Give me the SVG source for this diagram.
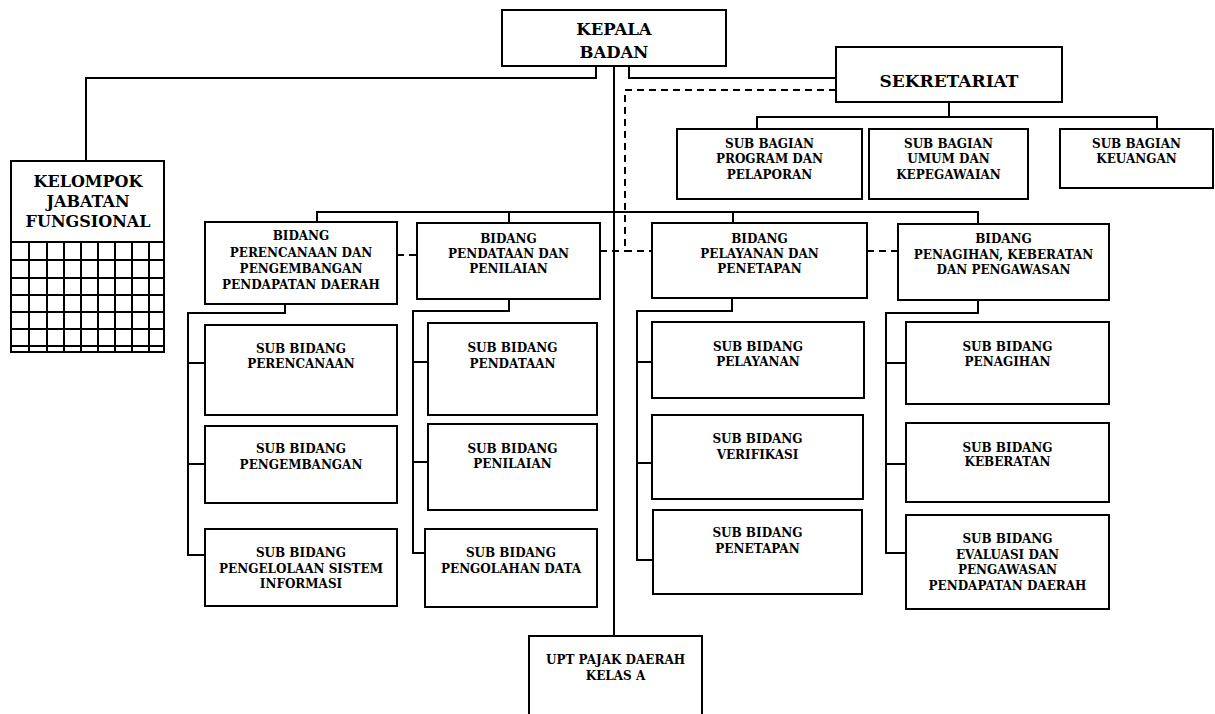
<svg xmlns="http://www.w3.org/2000/svg" width="1215" height="714" viewBox="0 0 1215 714">
<style>
.box{fill:#fff;stroke:#000;stroke-width:2}
.ln{fill:none;stroke:#000;stroke-width:2}
.dash{fill:none;stroke:#000;stroke-width:2;stroke-dasharray:7 5}
text{font-family:"DejaVu Serif","Liberation Serif",serif;font-weight:bold;text-anchor:middle;fill:#000}
.s{font-size:12px}
.m{font-size:16px}
.l{font-size:16.5px}
.xl{font-size:17px}
</style>
<rect width="1215" height="714" fill="#fff"/>
<g id="connectors">
<path class="ln" d="M596,66 V78 H86 V161"/>
<path class="ln" d="M629,66 V78 H836"/>
<path class="ln" d="M614,66 V636"/>
<path class="dash" d="M836,90 H625 V251 H652"/>
<path class="dash" d="M397,255 H417"/>
<path class="dash" d="M600,251 H625"/>
<path class="dash" d="M867,251 H898"/>
<path class="ln" d="M949,102 V117 M757,129 V117 H1157 V129"/>
<path class="ln" d="M317,222 V212 H978 V224 M509,212 V223 M733,212 V223"/>
<path class="ln" d="M285,304 V313 H188 V555 H205 M188,363 H205 M188,464 H205"/>
<path class="ln" d="M509,299 V311 H413 V553 H425 M413,362 H428 M413,462 H428"/>
<path class="ln" d="M732,298 V311 H637 V560 H653 M637,362 H652 M637,463 H652"/>
<path class="ln" d="M978,300 V313 H886 V553 H906 M886,363 H906 M886,464 H906"/>
</g>
<g id="kepala-badan">
<rect class="box" x="502" y="10" width="224" height="56"/>
<text class="l" x="614" y="35">KEPALA</text>
<text class="l" x="614" y="58">BADAN</text>
</g>
<g id="sekretariat">
<rect class="box" x="836" y="47" width="226" height="55"/>
<text class="xl" x="949" y="87">SEKRETARIAT</text>
</g>
<g id="kelompok-jabatan-fungsional">
<rect class="box" x="11" y="161" width="153" height="191"/>
<path class="ln" d="M11,242 H164 M11,260 H164 M11,278 H164 M11,295 H164 M11,312 H164 M11,329 H164 M11,346 H164 M29,242 V352 M47,242 V352 M64,242 V352 M81,242 V352 M98,242 V352 M115,242 V352 M132,242 V352 M149,242 V352"/>
<text class="m" x="88" y="187">KELOMPOK</text>
<text class="m" x="88" y="207">JABATAN</text>
<text class="m" x="88" y="227">FUNGSIONAL</text>
</g>
<g id="sub-bagian-program">
<rect class="box" x="677" y="129" width="185" height="70"/>
<text class="s" x="769.5" y="148">SUB BAGIAN</text>
<text class="s" x="769.5" y="163">PROGRAM DAN</text>
<text class="s" x="769.5" y="179">PELAPORAN</text>
</g>
<g id="sub-bagian-umum">
<rect class="box" x="869" y="129" width="159" height="70"/>
<text class="s" x="948.5" y="148">SUB BAGIAN</text>
<text class="s" x="948.5" y="163">UMUM DAN</text>
<text class="s" x="948.5" y="179">KEPEGAWAIAN</text>
</g>
<g id="sub-bagian-keuangan">
<rect class="box" x="1060" y="129" width="153" height="59"/>
<text class="s" x="1136.5" y="148">SUB BAGIAN</text>
<text class="s" x="1136.5" y="163">KEUANGAN</text>
</g>
<g id="bidang-perencanaan">
<rect class="box" x="205" y="222" width="192" height="82"/>
<text class="s" x="301" y="240">BIDANG</text>
<text class="s" x="301" y="257">PERENCANAAN DAN</text>
<text class="s" x="301" y="273">PENGEMBANGAN</text>
<text class="s" x="301" y="289">PENDAPATAN DAERAH</text>
</g>
<g id="bidang-pendataan">
<rect class="box" x="417" y="223" width="183" height="76"/>
<text class="s" x="508.5" y="243">BIDANG</text>
<text class="s" x="508.5" y="258">PENDATAAN DAN</text>
<text class="s" x="508.5" y="273">PENILAIAN</text>
</g>
<g id="bidang-pelayanan">
<rect class="box" x="652" y="223" width="215" height="75"/>
<text class="s" x="759.5" y="243">BIDANG</text>
<text class="s" x="759.5" y="258">PELAYANAN DAN</text>
<text class="s" x="759.5" y="273">PENETAPAN</text>
</g>
<g id="bidang-penagihan">
<rect class="box" x="898" y="224" width="211" height="76"/>
<text class="s" x="1003.5" y="243">BIDANG</text>
<text class="s" x="1003.5" y="259">PENAGIHAN, KEBERATAN</text>
<text class="s" x="1003.5" y="274">DAN PENGAWASAN</text>
</g>
<g id="sub-bidang-perencanaan">
<rect class="box" x="205" y="325" width="192" height="90"/>
<text class="s" x="301" y="353">SUB BIDANG</text>
<text class="s" x="301" y="368">PERENCANAAN</text>
</g>
<g id="sub-bidang-pengembangan">
<rect class="box" x="205" y="426" width="192" height="77"/>
<text class="s" x="301" y="453">SUB BIDANG</text>
<text class="s" x="301" y="469">PENGEMBANGAN</text>
</g>
<g id="sub-bidang-pengelolaan">
<rect class="box" x="205" y="529" width="192" height="77"/>
<text class="s" x="301" y="557">SUB BIDANG</text>
<text class="s" x="301" y="573">PENGELOLAAN SISTEM</text>
<text class="s" x="301" y="588">INFORMASI</text>
</g>
<g id="sub-bidang-pendataan">
<rect class="box" x="428" y="323" width="169" height="92"/>
<text class="s" x="512.5" y="352">SUB BIDANG</text>
<text class="s" x="512.5" y="368">PENDATAAN</text>
</g>
<g id="sub-bidang-penilaian">
<rect class="box" x="428" y="424" width="169" height="86"/>
<text class="s" x="512.5" y="453">SUB BIDANG</text>
<text class="s" x="512.5" y="468">PENILAIAN</text>
</g>
<g id="sub-bidang-pengolahan">
<rect class="box" x="425" y="529" width="172" height="78"/>
<text class="s" x="511" y="557">SUB BIDANG</text>
<text class="s" x="511" y="573">PENGOLAHAN DATA</text>
</g>
<g id="sub-bidang-pelayanan">
<rect class="box" x="652" y="322" width="212" height="76"/>
<text class="s" x="758" y="351">SUB BIDANG</text>
<text class="s" x="758" y="366">PELAYANAN</text>
</g>
<g id="sub-bidang-verifikasi">
<rect class="box" x="652" y="415" width="211" height="84"/>
<text class="s" x="757.5" y="443">SUB BIDANG</text>
<text class="s" x="757.5" y="459">VERIFIKASI</text>
</g>
<g id="sub-bidang-penetapan">
<rect class="box" x="653" y="510" width="209" height="84"/>
<text class="s" x="757.5" y="537">SUB BIDANG</text>
<text class="s" x="757.5" y="553">PENETAPAN</text>
</g>
<g id="sub-bidang-penagihan">
<rect class="box" x="906" y="322" width="203" height="82"/>
<text class="s" x="1007.5" y="351">SUB BIDANG</text>
<text class="s" x="1007.5" y="366">PENAGIHAN</text>
</g>
<g id="sub-bidang-keberatan">
<rect class="box" x="906" y="423" width="203" height="79"/>
<text class="s" x="1007.5" y="452">SUB BIDANG</text>
<text class="s" x="1007.5" y="466">KEBERATAN</text>
</g>
<g id="sub-bidang-evaluasi">
<rect class="box" x="906" y="515" width="203" height="94"/>
<text class="s" x="1007.5" y="543">SUB BIDANG</text>
<text class="s" x="1007.5" y="559">EVALUASI DAN</text>
<text class="s" x="1007.5" y="574">PENGAWASAN</text>
<text class="s" x="1007.5" y="590">PENDAPATAN DAERAH</text>
</g>
<g id="upt-pajak-daerah">
<rect class="box" x="529" y="636" width="173" height="80"/>
<text class="s" x="615.5" y="664">UPT PAJAK DAERAH</text>
<text class="s" x="615.5" y="680">KELAS A</text>
</g>
</svg>
